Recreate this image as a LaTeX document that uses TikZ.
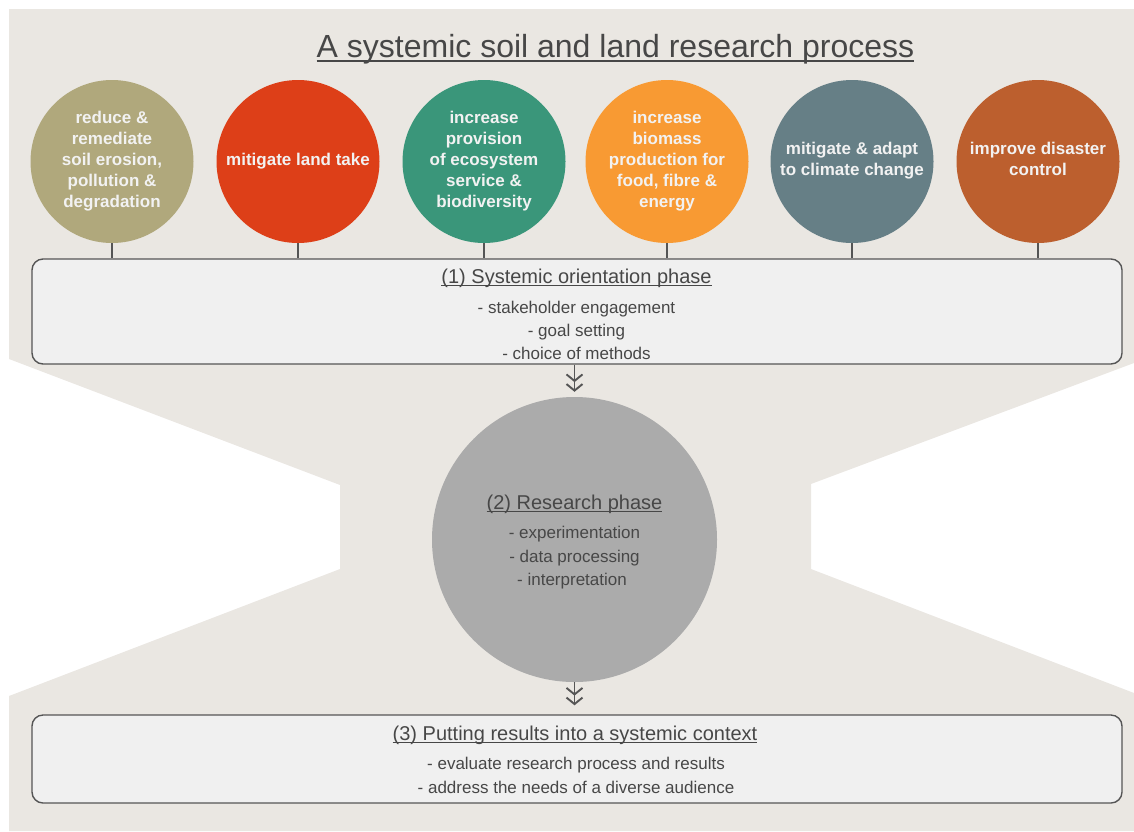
\documentclass[tikz,border=0pt]{standalone}
\usepackage{fontspec}
\setmainfont{Liberation Sans}
\usetikzlibrary{arrows.meta}
\definecolor{bgbeige}{HTML}{EAE7E2}
\definecolor{boxfill}{HTML}{F0F0F0}
\definecolor{boxline}{HTML}{555555}
\definecolor{txt}{HTML}{474747}
\definecolor{goaltext}{HTML}{F2F2F2}
\definecolor{cA}{HTML}{B0A87C}
\definecolor{cB}{HTML}{DD3F18}
\definecolor{cC}{HTML}{3A967A}
\definecolor{cD}{HTML}{F89A33}
\definecolor{cE}{HTML}{667F86}
\definecolor{cF}{HTML}{BC5F2E}
\definecolor{resgray}{HTML}{ABABAB}
\newcommand{\myul}[1]{\sbox0{#1}\rlap{\rule[-0.15em]{\wd0}{0.06em}}\usebox0}
\begin{document}
\begin{tikzpicture}[x=1pt,y=-1pt,
 goal/.style={circle,minimum size=163pt,inner sep=0pt,text=goaltext,align=center,font=\fontsize{17}{21}\selectfont\bfseries},
 phasebox/.style={draw=boxline,line width=1.4pt,fill=boxfill,rounded corners=11pt,minimum width=1090pt,inner sep=0pt},
 head/.style={text=txt,font=\fontsize{20}{24}\selectfont,anchor=base,inner sep=0pt},
 item/.style={text=txt,font=\fontsize{17}{23}\selectfont,anchor=base,inner sep=0pt},
 stem/.style={draw=boxline,line width=1.2pt},
 flow/.style={draw=boxline,line width=1.8pt,-{Straight Barb[length=6.5pt,width=16pt,line width=1.9pt,sep=1pt]Straight Barb[length=6.5pt,width=16pt,line width=1.9pt]}}
]
\useasboundingbox (0,0) rectangle (1134,831);
\fill[bgbeige] (9,9) -- (1134,9) -- (1134,363) -- (811,484) -- (811,569) -- (1134,693) -- (1134,831) -- (9,831) -- (9,696) -- (340,569) -- (340,485) -- (9,359) -- cycle;

\node[text=txt,font=\fontsize{32}{38}\selectfont,anchor=base,inner sep=0pt] (title) at (615.5,57) {\myul{A systemic soil and land research process}};

\node[goal,fill=cA] (g1) at (112,161.5) {reduce \&\\remediate\\soil erosion,\\pollution \&\\degradation\\[-16pt]};
\node[goal,fill=cB] (g2) at (298,161.5) {mitigate land take\\[-16pt]};
\node[goal,fill=cC] (g3) at (484,161.5) {increase\\provision\\of ecosystem\\service \&\\biodiversity\\[-16pt]};
\node[goal,fill=cD] (g4) at (667,161.5) {increase\\biomass\\production for\\food, fibre \&\\energy\\[-16pt]};
\node[goal,fill=cE] (g5) at (852,161.5) {mitigate \& adapt\\to climate change\\[-16pt]};
\node[goal,fill=cF] (g6) at (1038,161.5) {improve disaster\\control\\[-16pt]};

\node[phasebox,minimum height=105pt] (b1) at (577,311.5) {};
\node[phasebox,minimum height=88pt] (b3) at (577,759) {};

\foreach \g in {g1,g2,g3,g4,g5,g6}
  \draw[stem] (\g.south) -- (\g.south |- b1.north);

\node[head] (h1) at (576.5,283) {\myul{(1) Systemic orientation phase}};
\node[item] (i11) at (576.5,313) {- stakeholder engagement};
\node[item] (i12) at (576.5,336) {- goal setting};
\node[item] (i13) at (576.5,359) {- choice of methods};

\node[circle,fill=resgray,minimum size=285pt,inner sep=0pt] (res) at (574.5,539.5) {};
\node[head] (h2) at (574.5,509) {\myul{(2) Research phase}};
\node[item] (i21) at (574.5,538) {- experimentation};
\node[item] (i22) at (574.5,562) {- data processing};
\node[item] (i23) at (572,585) {- interpretation};

\node[head] (h3) at (575,740) {\myul{(3) Putting results into a systemic context}};
\node[item] (i31) at (576,769) {- evaluate research process and results};
\node[item] (i32) at (576,793) {- address the needs of a diverse audience};

\draw[flow,shorten >=5pt] (res.north |- b1.south) -- (res.north);
\draw[flow,shorten >=9pt] (res.south) -- (res.south |- b3.north);
\end{tikzpicture}
\end{document}
